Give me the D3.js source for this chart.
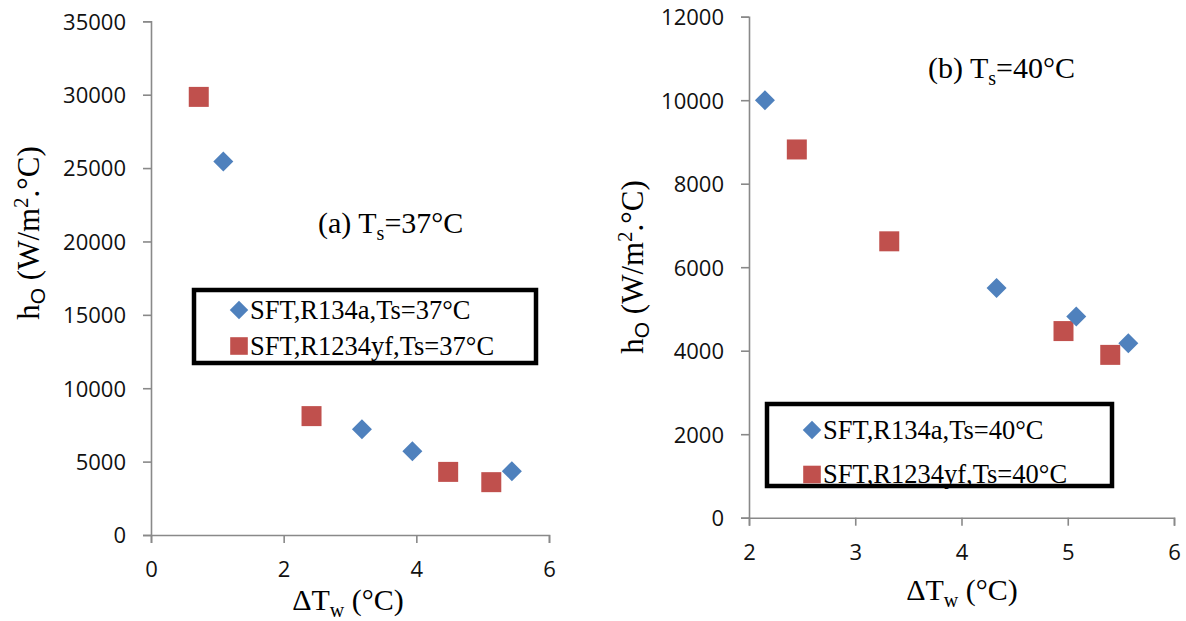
<!DOCTYPE html>
<html>
<head>
<meta charset="utf-8">
<script src="https://cdn.jsdelivr.net/npm/d3@7"></script>
<style>
  html, body { margin: 0; padding: 0; background: #fff; }
  svg { display: block; }
  .tick text { font-family: "Open Sans", "Noto Sans", sans-serif; font-size: 22px; fill: #111; }
  .serif { font-family: "Liberation Serif", "Times New Roman", serif; fill: #000; }
</style>
</head>
<body>
<svg id="chart" width="1186" height="621"></svg>
<script>
// ---- Data ----
// Panel (a) Ts = 37°C
const a_R134a_x = [1.09, 3.18, 3.94, 5.44];
const a_R134a_y = [25450, 7200, 5700, 4350];
const a_R1234yf_x = [0.72, 2.42, 4.48, 5.13];
const a_R1234yf_y = [29850, 8100, 4300, 3600];
const a_xTicks = [0, 2, 4, 6];
const a_yTicks = [0, 5000, 10000, 15000, 20000, 25000, 30000, 35000];
const a_legend = ["SFT,R134a,Ts=37°C", "SFT,R1234yf,Ts=37°C"];

// Panel (b) Ts = 40°C
const b_R134a_x = [2.15, 4.33, 5.08, 5.57];
const b_R134a_y = [10000, 5500, 4820, 4180];
const b_R1234yf_x = [2.45, 3.32, 4.96, 5.40];
const b_R1234yf_y = [8820, 6620, 4470, 3900];
const b_xTicks = [2, 3, 4, 5, 6];
const b_yTicks = [0, 2000, 4000, 6000, 8000, 10000, 12000];
const b_legend = ["SFT,R134a,Ts=40°C", "SFT,R1234yf,Ts=40°C"];

const BLUE = "#4F81BD";
const RED = "#C0504D";

const svg = d3.select("#chart");

function drawPanel(p) {
  const x = d3.scaleLinear().domain(p.xDomain).range([p.left, p.right]);
  const y = d3.scaleLinear().domain(p.yDomain).range([p.bottom, p.top]);
  const g = svg.append("g");

  const xAxis = g.append("g")
    .attr("transform", `translate(0,${p.bottom})`)
    .call(d3.axisBottom(x).tickValues(p.xTicks).tickSize(8).tickPadding(10).tickFormat(d3.format("d")));
  const yAxis = g.append("g")
    .attr("transform", `translate(${p.left},0)`)
    .call(d3.axisLeft(y).tickValues(p.yTicks).tickSize(8).tickPadding(17).tickFormat(d3.format("d")));
  [xAxis, yAxis].forEach(ax => {
    ax.select(".domain").attr("stroke", "#898989").attr("stroke-width", 1.6);
    ax.selectAll(".tick line").attr("stroke", "#898989").attr("stroke-width", 1.6);
  });
  xAxis.selectAll(".tick text").attr("dy", 24);
  yAxis.selectAll(".tick text").attr("dy", "0.36em");

  // data
  const s1 = p.s1x.map((v, i) => [v, p.s1y[i]]);
  const s2 = p.s2x.map((v, i) => [v, p.s2y[i]]);
  const diamond = d3.symbol(d3.symbolSquare, 200)();
  const square = d3.symbol(d3.symbolSquare, 400)();
  g.selectAll(".sq").data(s2).join("path")
    .attr("d", square)
    .attr("transform", d => `translate(${x(d[0])},${y(d[1])})`)
    .attr("fill", RED);
  g.selectAll(".dm").data(s1).join("path")
    .attr("d", diamond)
    .attr("transform", d => `translate(${x(d[0])},${y(d[1])}) rotate(45)`)
    .attr("fill", BLUE);

  // title
  const t = g.append("text").attr("class", "serif")
    .attr("x", p.titleX).attr("y", p.titleY).attr("font-size", 30);
  t.append("tspan").text(p.titleA);
  t.append("tspan").text("s").attr("font-size", 20).attr("dy", 7);
  t.append("tspan").text("=" + p.titleB).attr("dy", -7);

  // axis titles
  const xl = g.append("text").attr("class", "serif").attr("text-anchor", "middle")
    .attr("x", p.xLabelX).attr("y", p.xLabelY).attr("font-size", 30);
  xl.append("tspan").text("ΔT");
  xl.append("tspan").text("w").attr("font-size", 20).attr("dy", 7);
  xl.append("tspan").text(" (°C)").attr("dy", -7);

  const yl = g.append("text").attr("class", "serif").attr("text-anchor", "middle")
    .attr("transform", `translate(${p.yLabelX},${p.yLabelY}) rotate(-90)`).attr("font-size", 31);
  yl.append("tspan").text("h");
  yl.append("tspan").text("O").attr("font-size", 21).attr("dy", 6)
    .attr("font-family", "'Liberation Sans', sans-serif");
  yl.append("tspan").text(" (W/m").attr("dy", -6);
  yl.append("tspan").text("2").attr("font-size", 21).attr("dy", -11);
  yl.append("tspan").text(".°C)").attr("dy", 11);

  // legend
  const lg = g.append("g");
  lg.append("rect")
    .attr("x", p.legX).attr("y", p.legY).attr("width", p.legW).attr("height", p.legH)
    .attr("fill", "#fff").attr("stroke", "#000").attr("stroke-width", 4.5);
  const items = [
    { label: p.legend[0], color: BLUE, shape: "diamond" },
    { label: p.legend[1], color: RED, shape: "square" }
  ];
  items.forEach((it, i) => {
    const cy = p.legY + p.legRow0 + i * p.legStep;
    const mx = p.legX + 45;
    if (it.shape === "diamond") {
      lg.append("path").attr("d", d3.symbol(d3.symbolSquare, 170)())
        .attr("transform", `translate(${mx},${cy}) rotate(45)`).attr("fill", it.color);
    } else {
      lg.append("path").attr("d", d3.symbol(d3.symbolSquare, 310)())
        .attr("transform", `translate(${mx},${cy})`).attr("fill", it.color);
    }
    lg.append("text").attr("class", "serif").attr("font-size", 26.5)
      .attr("x", mx + 11).attr("y", cy + 8.5).text(it.label);
  });
}

drawPanel({
  xDomain: [0, 6], yDomain: [0, 35000],
  left: 151, right: 549, top: 21.3, bottom: 535,
  xTicks: a_xTicks, yTicks: a_yTicks,
  s1x: a_R134a_x, s1y: a_R134a_y, s2x: a_R1234yf_x, s2y: a_R1234yf_y,
  titleA: "(a) T", titleB: "37°C", titleX: 318, titleY: 233,
  xLabelX: 348, xLabelY: 610, yLabelX: 39, yLabelY: 233,
  legX: 194, legY: 290, legW: 342, legH: 73, legRow0: 20, legStep: 36, legend: a_legend
});

drawPanel({
  xDomain: [2, 6], yDomain: [0, 12000],
  left: 749, right: 1174, top: 16.7, bottom: 517.7,
  xTicks: b_xTicks, yTicks: b_yTicks,
  s1x: b_R134a_x, s1y: b_R134a_y, s2x: b_R1234yf_x, s2y: b_R1234yf_y,
  titleA: "(b) T", titleB: "40°C", titleX: 928, titleY: 78,
  xLabelX: 962, xLabelY: 600, yLabelX: 643, yLabelY: 267,
  legX: 767, legY: 404, legW: 345, legH: 82, legRow0: 26, legStep: 44.5, legend: b_legend
});
</script>
</body>
</html>
